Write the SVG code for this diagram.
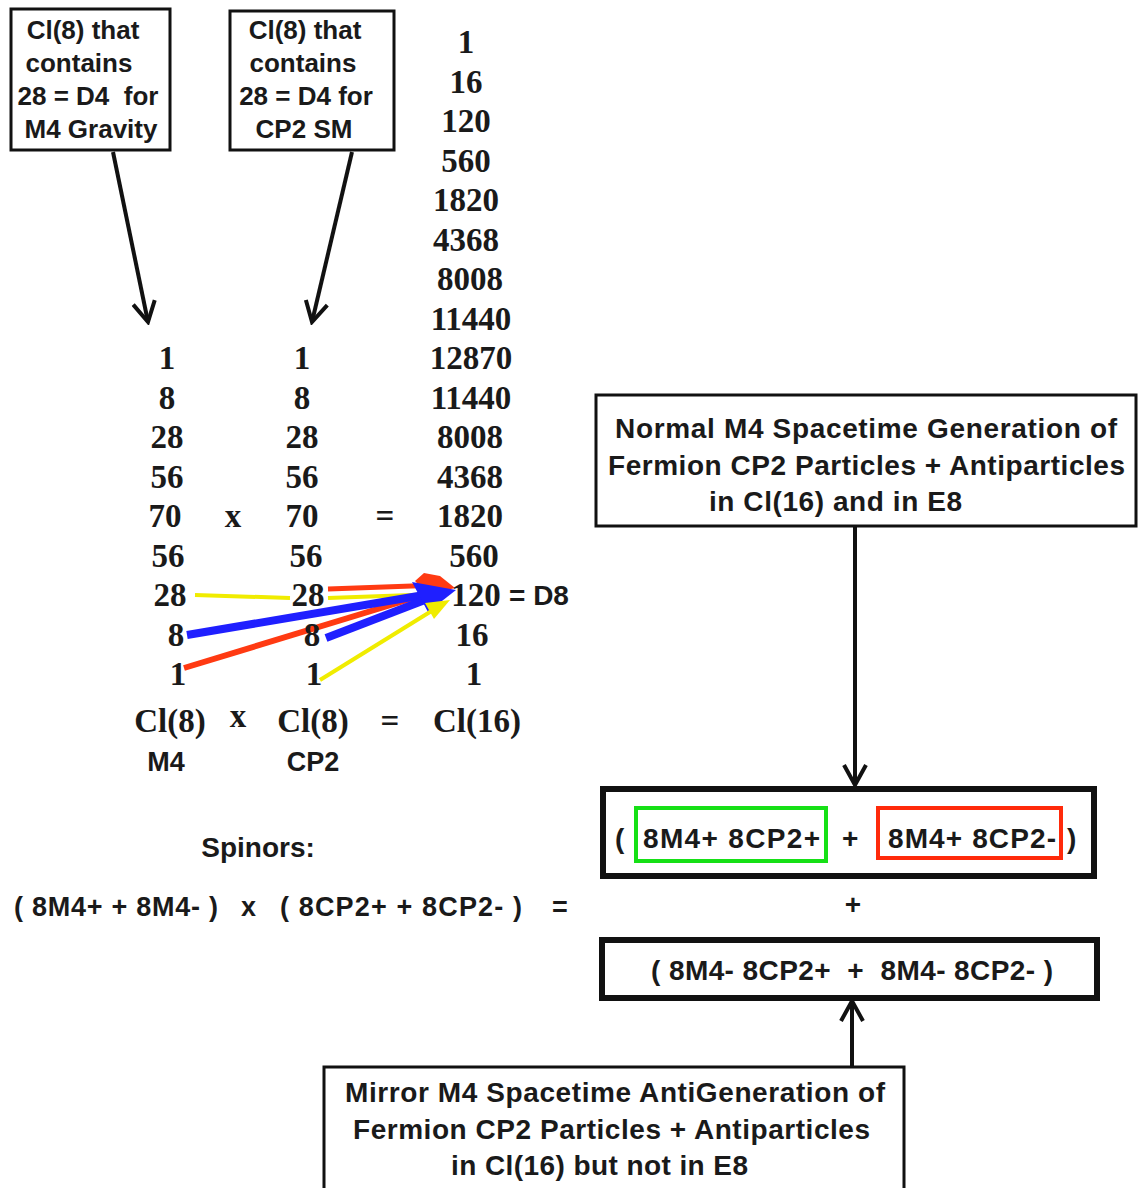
<svg xmlns="http://www.w3.org/2000/svg" width="1138" height="1188" viewBox="0 0 1138 1188">
<defs>
<style>
.s{font-family:"Liberation Sans",Arial,sans-serif;font-weight:bold;fill:#1a1a1a}
.n{font-family:"Liberation Serif","Times New Roman",serif;font-weight:bold;fill:#1a1a1a;font-size:33px;text-anchor:middle}
.box{fill:#fff;stroke:#111;stroke-width:3}
.tbox{fill:#fff;stroke:#111;stroke-width:6}
.m{text-anchor:middle}
.ln{fill:none;stroke:#111;stroke-width:4}
.t{font-size:26px}
.b{font-size:28px}
</style>
<marker id="ah" viewBox="0 0 26 26" refX="23" refY="13" markerWidth="26" markerHeight="26" markerUnits="userSpaceOnUse" orient="auto">
<path d="M3,2 L23,13 L3,24" fill="none" stroke="#111" stroke-width="4"/>
</marker>
</defs>
<rect width="1138" height="1188" fill="#fff"/>

<g id="connectors">
<line class="ln" x1="113" y1="152" x2="148" y2="322" marker-end="url(#ah)"/>
<line class="ln" x1="352" y1="152" x2="312" y2="322" marker-end="url(#ah)"/>
<line class="ln" x1="855" y1="527" x2="855" y2="785" marker-end="url(#ah)"/>
<line class="ln" x1="852" y1="1066" x2="852" y2="1001" marker-end="url(#ah)"/>
</g>

<g id="colored-arrows">
<line x1="195" y1="595" x2="290" y2="598" stroke="#f0ec00" stroke-width="4"/>
<line x1="328" y1="598" x2="440" y2="594" stroke="#f0ec00" stroke-width="4"/>
<line x1="328" y1="589" x2="440" y2="585" stroke="#ff3a12" stroke-width="5"/>
<polygon points="415,581 424,573 440,576 455,588 428,595" fill="#ff3a12"/>
<line x1="184" y1="668" x2="440" y2="590" stroke="#ff3a12" stroke-width="6"/>
<line x1="187" y1="635" x2="430" y2="594" stroke="#1f1fff" stroke-width="8"/>
<line x1="326" y1="638" x2="430" y2="598" stroke="#1f1fff" stroke-width="8"/>
<polygon points="412,582 456,590 428,612" fill="#1f1fff"/>
<line x1="320" y1="680" x2="438" y2="607" stroke="#f0ec00" stroke-width="4"/>
<polygon points="425,603 450,600 434,619" fill="#f0ec00"/>
</g>

<g id="box-m4">
<rect class="box" x="11" y="9" width="159" height="141"/>
<text class="s m t" x="83" y="39">Cl(8) that</text>
<text class="s m t" x="79" y="72">contains</text>
<text class="s m t" x="88" y="105" xml:space="preserve">28 = D4  for</text>
<text class="s m t" x="91" y="138">M4 Gravity</text>
</g>

<g id="box-cp2">
<rect class="box" x="230" y="11" width="164" height="139"/>
<text class="s m t" x="305" y="39">Cl(8) that</text>
<text class="s m t" x="303" y="72">contains</text>
<text class="s m t" x="306" y="105">28 = D4 for</text>
<text class="s m t" x="304" y="138">CP2 SM</text>
</g>

<g id="cl16-column">
<text class="n" x="466" y="53">1</text>
<text class="n" x="466" y="93">16</text>
<text class="n" x="466" y="132">120</text>
<text class="n" x="466" y="172">560</text>
<text class="n" x="466" y="211">1820</text>
<text class="n" x="466" y="251">4368</text>
<text class="n" x="470" y="290">8008</text>
<text class="n" x="471" y="330">11440</text>
<text class="n" x="471" y="369">12870</text>
<text class="n" x="471" y="409">11440</text>
<text class="n" x="470" y="448">8008</text>
<text class="n" x="470" y="488">4368</text>
<text class="n" x="470" y="527">1820</text>
<text class="n" x="474" y="567">560</text>
<text class="n" x="476" y="606">120</text>
<text class="s" font-size="28" x="509" y="605">= D8</text>
<text class="n" x="472" y="646">16</text>
<text class="n" x="474" y="685">1</text>
<text class="n" x="477" y="732">Cl(16)</text>
</g>

<g id="cl8-m4-column">
<text class="n" x="167" y="369">1</text>
<text class="n" x="167" y="409">8</text>
<text class="n" x="167" y="448">28</text>
<text class="n" x="167" y="488">56</text>
<text class="n" x="165" y="527">70</text>
<text class="n" x="168" y="567">56</text>
<text class="n" x="170" y="606">28</text>
<text class="n" x="176" y="646">8</text>
<text class="n" x="178" y="685">1</text>
<text class="n" x="170" y="732">Cl(8)</text>
<text class="s m" font-size="27" x="166" y="771">M4</text>
</g>

<g id="cl8-cp2-column">
<text class="n" x="302" y="369">1</text>
<text class="n" x="302" y="409">8</text>
<text class="n" x="302" y="448">28</text>
<text class="n" x="302" y="488">56</text>
<text class="n" x="302" y="527">70</text>
<text class="n" x="306" y="567">56</text>
<text class="n" x="308" y="606">28</text>
<text class="n" x="312" y="646">8</text>
<text class="n" x="314" y="685">1</text>
<text class="n" x="313" y="732">Cl(8)</text>
<text class="s m" font-size="27" x="313" y="771">CP2</text>
</g>

<g id="operators">
<text class="n" x="233" y="527">x</text>
<text class="n" x="385" y="527">=</text>
<text class="n" x="238" y="727">x</text>
<text class="n" x="390" y="732">=</text>
</g>

<g id="spinors">
<text class="s m b" x="258" y="857">Spinors:</text>
<text class="s" font-size="27" x="14" y="916" textLength="204" lengthAdjust="spacing">( 8M4+ + 8M4- )</text>
<text class="s" font-size="27" x="241" y="916">x</text>
<text class="s" font-size="27" x="280" y="916" textLength="242" lengthAdjust="spacing">( 8CP2+ + 8CP2- )</text>
<text class="s" font-size="27" x="552" y="916">=</text>
</g>

<g id="box-normal">
<rect class="box" x="596" y="395" width="540" height="131"/>
<text class="s b" x="615" y="438" textLength="502" lengthAdjust="spacing">Normal M4 Spacetime Generation of</text>
<text class="s b" x="608" y="475" textLength="517" lengthAdjust="spacing">Fermion CP2 Particles + Antiparticles</text>
<text class="s b" x="709" y="511" textLength="253" lengthAdjust="spacing">in Cl(16) and in E8</text>
</g>

<g id="box-generation">
<rect class="tbox" x="603" y="789" width="491" height="87"/>
<rect x="636" y="808" width="190" height="53" fill="none" stroke="#16e016" stroke-width="4"/>
<rect x="878" y="808" width="183" height="50" fill="none" stroke="#ff2a0a" stroke-width="4"/>
<text class="s b" x="615" y="848">(</text>
<text class="s b" x="643" y="848" textLength="177" lengthAdjust="spacing">8M4+ 8CP2+</text>
<text class="s b" x="842" y="848">+</text>
<text class="s b" x="888" y="848" textLength="168" lengthAdjust="spacing">8M4+ 8CP2-</text>
<text class="s b" x="1067" y="848">)</text>
</g>

<text class="s m b" x="853" y="914">+</text>

<g id="box-antigeneration">
<rect class="tbox" x="602" y="940" width="495" height="58"/>
<text class="s b" x="651" y="980" textLength="402" lengthAdjust="spacing" xml:space="preserve">( 8M4- 8CP2+  +  8M4- 8CP2- )</text>
</g>

<g id="box-mirror">
<rect class="box" x="324" y="1067" width="580" height="125"/>
<text class="s b" x="345" y="1102" textLength="540" lengthAdjust="spacing">Mirror M4 Spacetime AntiGeneration of</text>
<text class="s b" x="353" y="1139" textLength="517" lengthAdjust="spacing">Fermion CP2 Particles + Antiparticles</text>
<text class="s b" x="451" y="1175" textLength="297" lengthAdjust="spacing">in Cl(16) but not in E8</text>
</g>
</svg>
